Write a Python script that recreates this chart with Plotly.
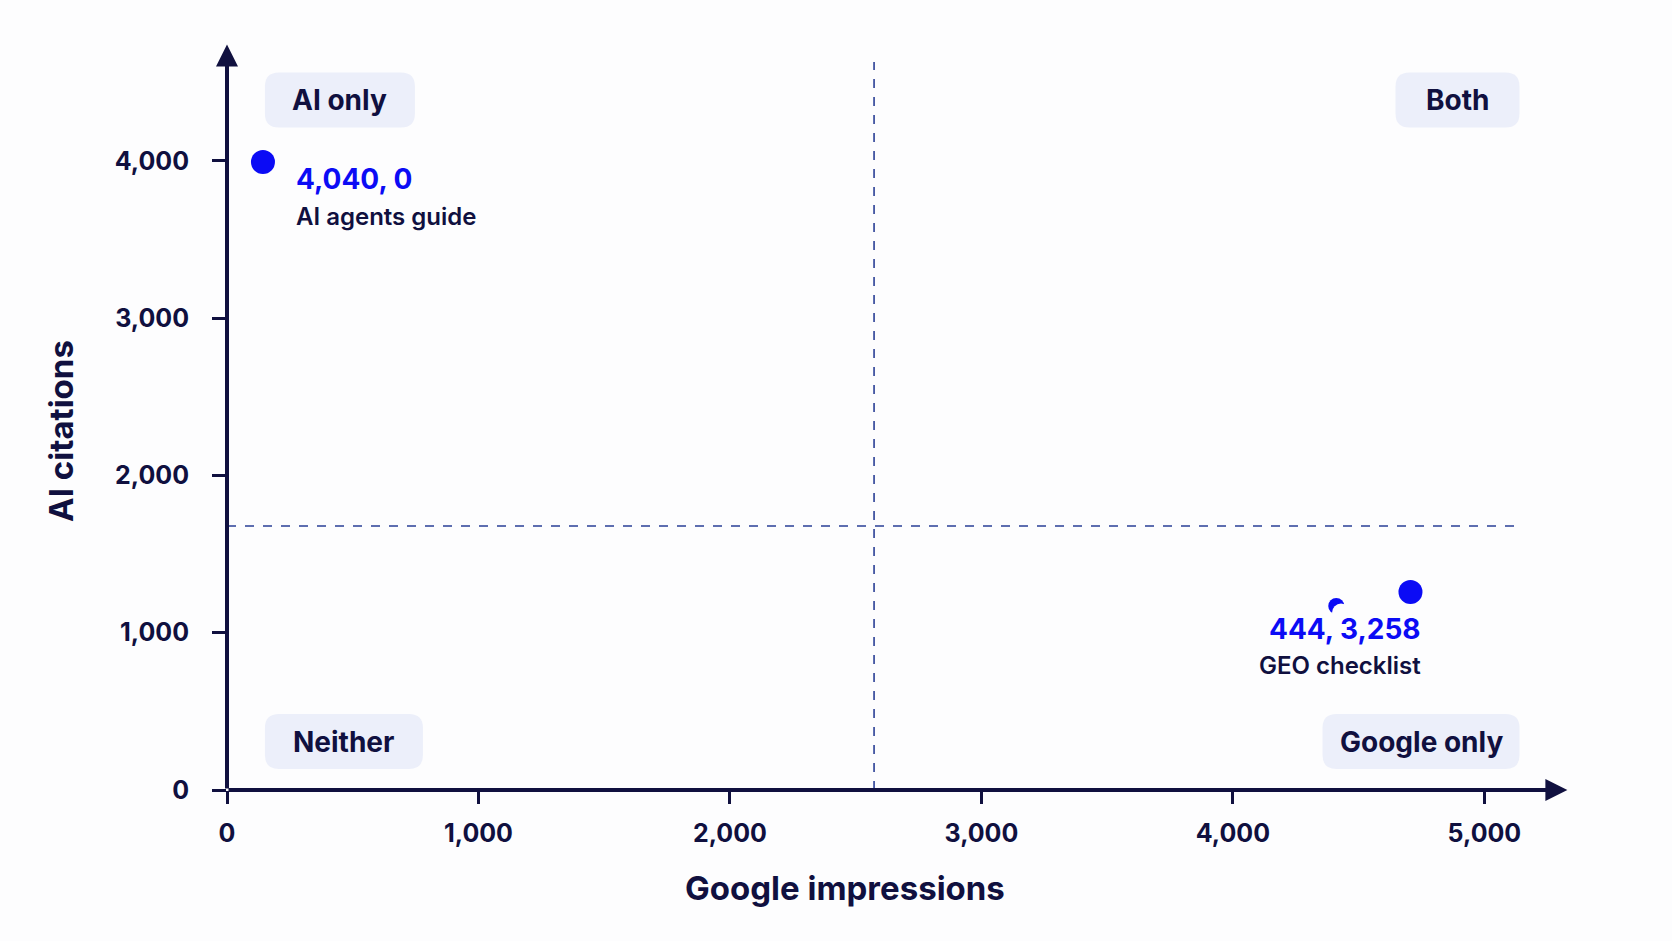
import plotly.graph_objects as go

# ---- data ----
point_names = ["AI agents guide", "GEO checklist"]
point_x = [143, 4706]
point_y = [3992, 1259]
point_labels = ["4,040, 0", "444, 3,258"]
hidden_x = [4411]          # partially hidden point behind label
hidden_y = [1170]
occluder_x = [4430]
occluder_y = [1128]

x_ticks = [0, 1000, 2000, 3000, 4000, 5000]
x_tick_text = ["0", "1,000", "2,000", "3,000", "4,000", "5,000"]
y_ticks = [0, 1000, 2000, 3000, 4000]
y_tick_text = ["0", "1,000", "2,000", "3,000", "4,000"]

x_split = 2573
y_split = 1678

quadrant_names = ["AI only", "Both", "Neither", "Google only"]
quadrant_x = [449, 4893, 465, 4748]
quadrant_y = [4387, 4387, 308, 308]
quadrant_w = [150, 124, 158, 197]

NAVY = "#10103f"
BLUE = "#0b0bf5"
DASH = "#2a3f96"
BOXC = "#eceffa"
FONT = "Inter"

fig = go.Figure()

fig.add_trace(go.Scatter(x=hidden_x, y=hidden_y, mode="markers",
                         marker=dict(size=16, color=BLUE), hoverinfo="skip", showlegend=False))
fig.add_trace(go.Scatter(x=occluder_x, y=occluder_y, mode="markers",
                         marker=dict(size=18, color="#fdfdfe"), hoverinfo="skip", showlegend=False))
fig.add_trace(go.Scatter(x=point_x, y=point_y, mode="markers",
                         marker=dict(size=24, color=BLUE), text=point_names, showlegend=False))

shapes = []
shapes.append(dict(type="line", xref="x", yref="y", x0=x_split, x1=x_split, y0=0, y1=4628,
                   line=dict(color=DASH, width=1.6, dash="dash"), layer="below"))
shapes.append(dict(type="line", xref="x", yref="y", x0=0, x1=5140, y0=y_split, y1=y_split,
                   line=dict(color=DASH, width=1.6, dash="dash"), layer="below"))

def rrect(w, h, r):
    a, b = w / 2, h / 2
    return (f"M {-a+r},{-b} L {a-r},{-b} Q {a},{-b} {a},{-b+r} L {a},{b-r} "
            f"Q {a},{b} {a-r},{b} L {-a+r},{b} Q {-a},{b} {-a},{b-r} "
            f"L {-a},{-b+r} Q {-a},{-b} {-a+r},{-b} Z")

for name, qx, qy, qw in zip(quadrant_names, quadrant_x, quadrant_y, quadrant_w):
    shapes.append(dict(type="path", xref="x", yref="y", xsizemode="pixel", ysizemode="pixel",
                       xanchor=qx, yanchor=qy, path=rrect(qw, 55, 14),
                       fillcolor=BOXC, line=dict(width=0), layer="below"))

annotations = []
for name, qx, qy in zip(quadrant_names, quadrant_x, quadrant_y):
    annotations.append(dict(x=qx, y=qy, xref="x", yref="y", text=name, showarrow=False,
                            font=dict(family=FONT, size=28, color=NAVY, weight=700)))

# point labels
annotations.append(dict(x=265, y=3884, xref="x", yref="y", text=point_labels[0], showarrow=False,
                        xanchor="left", font=dict(family=FONT, size=28, color=BLUE, weight=700)))
annotations.append(dict(x=265, y=3643, xref="x", yref="y", text=point_names[0], showarrow=False,
                        xanchor="left", font=dict(family=FONT, size=24, color=NAVY, weight=600)))
annotations.append(dict(x=4754, y=1024, xref="x", yref="y", text=point_labels[1], showarrow=False,
                        xanchor="right", font=dict(family=FONT, size=28, color=BLUE, weight=700)))
annotations.append(dict(x=4754, y=789, xref="x", yref="y", text=point_names[1], showarrow=False,
                        xanchor="right", font=dict(family=FONT, size=24, color=NAVY, weight=600)))

# axis arrows
annotations.append(dict(x=5330, y=0, ax=0, ay=0, xref="x", yref="y", axref="x", ayref="y",
                        showarrow=True, arrowhead=2, arrowsize=1.1, arrowwidth=4,
                        arrowcolor=NAVY, text=""))
annotations.append(dict(x=0, y=4740, ax=0, ay=0, xref="x", yref="y", axref="x", ayref="y",
                        showarrow=True, arrowhead=2, arrowsize=1.1, arrowwidth=4,
                        arrowcolor=NAVY, text=""))

# axis titles
annotations.append(dict(x=0.455, y=-0.1298, xref="paper", yref="paper", text="Google impressions",
                        xanchor="center", yanchor="middle",
                        showarrow=False, font=dict(family=FONT, size=33, color=NAVY, weight=700)))
annotations.append(dict(x=-0.1223, y=0.4755, xref="paper", yref="paper", text="AI citations",
                        xanchor="center", yanchor="middle",
                        showarrow=False, textangle=-90,
                        font=dict(family=FONT, size=33, color=NAVY, weight=700)))

fig.update_layout(
    width=1672, height=941,
    margin=dict(l=227, r=87, t=35, b=151),
    paper_bgcolor="#fdfdfe", plot_bgcolor="#fdfdfe",
    shapes=shapes, annotations=annotations,
    showlegend=False,
    font=dict(family=FONT, color=NAVY),
    xaxis=dict(range=[0, 5400], tickvals=x_ticks, ticktext=x_tick_text, showgrid=False,
               zeroline=False, showline=False, ticks="outside", ticklen=13, tickwidth=3,
               tickcolor=NAVY, ticklabelstandoff=8,
               tickfont=dict(family=FONT, size=25, color=NAVY, weight=700)),
    yaxis=dict(range=[0, 4800], tickvals=y_ticks, ticktext=y_tick_text, showgrid=False,
               zeroline=False, showline=False, ticks="outside", ticklen=14, tickwidth=3,
               tickcolor=NAVY, ticklabelstandoff=18,
               tickfont=dict(family=FONT, size=25, color=NAVY, weight=700)),
)

fig.write_html("out.html")
